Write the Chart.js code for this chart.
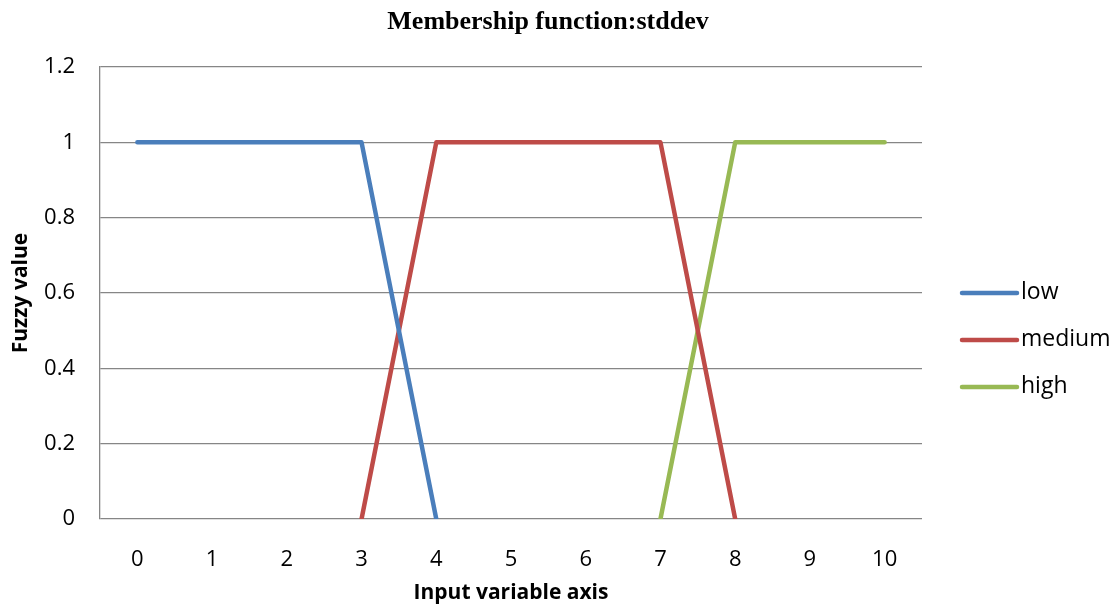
<!DOCTYPE html>
<html lang="en">
<head>
  <meta charset="UTF-8" />
  <title>Membership function:stddev</title>
  <style>
    html, body { margin: 0; padding: 0; background: #fff; }
    #wrap { width: 1120px; height: 610px; position: relative; }
  </style>
  <script src="https://cdn.jsdelivr.net/npm/chart.js"></script>
</head>
<body>
  <div id="wrap"><canvas id="mf"></canvas></div>
  <script>
    // ─── data ──────────────────────────────────────────────
    const categories = ['0', '1', '2', '3', '4', '5', '6', '7', '8', '9', '10'];
    const lowValues    = [1, 1, 1, 1, 0, null, null, null, null, null, null];
    const mediumValues = [null, null, null, 0, 1, 1, 1, 1, 0, null, null];
    const highValues   = [null, null, null, null, null, null, null, 0, 1, 1, 1];
    const yTicks = [0, 0.2, 0.4, 0.6, 0.8, 1, 1.2];
    const chartTitle = 'Membership function:stddev';

    const LABEL_FONT = 'Open Sans, Liberation Sans, sans-serif';

    // title + Excel-like legend on the right (layout padding keeps room for them)
    const sideLegend = {
      id: 'sideLegend',
      afterDraw(chart) {
        const c = chart.ctx;
        c.save();
        c.fillStyle = '#000';
        c.font = 'bold 26px Liberation Serif, serif';
        c.textAlign = 'center';
        c.textBaseline = 'middle';
        c.fillText(chartTitle, 548, 22);

        const x0 = 962, x1 = 1017, top = 293, step = 47;
        c.font = '23px ' + LABEL_FONT;
        c.textAlign = 'left';
        c.lineCap = 'round';
        chart.data.datasets.forEach((ds, i) => {
          const y = top + i * step;
          c.strokeStyle = ds.borderColor;
          c.lineWidth = 4.5;
          c.beginPath(); c.moveTo(x0, y); c.lineTo(x1, y); c.stroke();
          c.fillStyle = '#000';
          c.fillText(ds.label, x1 + 4, y - 1);
        });
        c.restore();
      }
    };

    const lineDs = (label, data, color) => ({
      label, data, borderColor: color, backgroundColor: color,
      borderWidth: 4.5, pointRadius: 0, borderCapStyle: 'round',
      borderJoinStyle: 'round', tension: 0, spanGaps: false
    });

    new Chart(document.getElementById('mf'), {
      type: 'line',
      data: {
        labels: categories,
        datasets: [
          lineDs('low', lowValues, '#4a7ebb'),
          lineDs('medium', mediumValues, '#be4b48'),
          lineDs('high', highValues, '#98b954')
        ]
      },
      options: {
        responsive: true,
        maintainAspectRatio: false,
        animation: false,
        layout: { padding: { left: 8, right: 198, top: 67, bottom: 4 } },
        plugins: {
          legend: { display: false },
          tooltip: { enabled: false },
          title: { display: false }
        },
        scales: {
          x: {
            offset: true,
            grid: { display: false },
            border: { display: false },
            ticks: { color: '#000', font: { family: LABEL_FONT, size: 22 }, padding: 20, maxRotation: 0 },
            title: {
              display: true, text: 'Input variable axis', color: '#000',
              font: { family: LABEL_FONT, size: 21, weight: 'bold' }, padding: { top: 4, bottom: 0 }
            },
            afterFit: s => { s.height = 87; }
          },
          y: {
            min: 0, max: 1.2,
            afterBuildTicks: s => { s.ticks = yTicks.map(v => ({ value: v })); },
            grid: { color: '#868686', lineWidth: 1.3, drawTicks: false },
            border: { display: true, color: '#868686', width: 1.3 },
            ticks: {
              color: '#000', font: { family: LABEL_FONT, size: 22 }, padding: 25,
              callback: v => String(Number(v.toFixed(1)))
            },
            title: {
              display: true, text: 'Fuzzy value', color: '#000',
              font: { family: LABEL_FONT, size: 21, weight: 'bold' }, padding: { top: 0, bottom: 4 }
            },
            afterFit: s => { s.width = 92; }
          }
        }
      },
      plugins: [sideLegend]
    });
  </script>
</body>
</html>
